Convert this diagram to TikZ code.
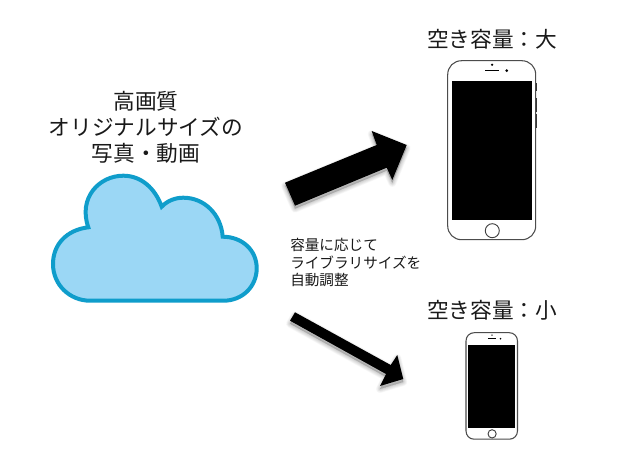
\documentclass[tikz,border=0pt]{standalone}
\usepackage{fontspec}
\setmainfont{Noto Sans CJK JP}
\definecolor{cloudfill}{HTML}{9BD7F5}
\definecolor{cloudline}{HTML}{0F9DCB}
\tikzset{
  x=0.75pt,y=-0.75pt,
  bigtext/.style={font=\fontsize{16.25}{19.5}\selectfont,align=center,inner sep=0pt,text=black!90},
  smalltext/.style={font=\fontsize{10.95}{13.1}\selectfont,align=left,inner sep=0pt,text=black!90},
  cloudshape/.style={fill=cloudfill,draw=cloudline,line width=3pt,line join=miter},
  arrowshape/.style={fill=black},
  glow/.style={draw=black,fill=black,draw opacity=0.025,fill opacity=0.025,line join=round},
  phonebody/.style={draw=black!70,line width=0.8pt,fill=white}
}
\newcommand{\drawphone}{%
    \fill[black!80] (88,22) rectangle (89.4,30);
    \fill[black!80] (88,37) rectangle (89.4,51);
    \fill[black!80] (88,53) rectangle (89.4,67);
    \draw[phonebody] (0,14) .. controls (0,6) and (6,0) .. (14,0) -- (74,0)
       .. controls (82,0) and (88,6) .. (88,14) -- (88,165)
       .. controls (88,173) and (82,179) .. (74,179) -- (14,179)
       .. controls (6,179) and (0,173) .. (0,165) -- cycle;
    \fill[black] (4,20) rectangle (84.5,159.5);
    \draw[black!75,line width=0.7pt] (44.6,170) circle[radius=7];
    \draw[black,line width=0.8pt] (37.5,10) -- (51.5,10);
    \fill[black] (44.4,4) circle[radius=1.2];
    \fill[black] (59,10) circle[radius=1.5];
}
\begin{document}
\begin{tikzpicture}
\useasboundingbox (0,0) rectangle (627,461);
\fill[white] (0,0) rectangle (627,461);

\node[bigtext] (title) at (146,127) {高画質\\オリジナルサイズの\\写真・動画};
\node[bigtext] (big) at (492,39) {空き容量：大};
\node[bigtext] (small) at (492,310) {空き容量：小};
\node[smalltext,anchor=west] (note) at (290,262.5) {容量に応じて\\ライブラリサイズを\\自動調整};

% cloud
\path[cloudshape] (88.3,227.3)
  .. controls (66,230) and (53,245) .. (53,264)
  .. controls (53,285) and (70,300.7) .. (90,300.7)
  -- (223.3,300.7)
  .. controls (243,300.7) and (256.7,286) .. (256.7,268.3)
  .. controls (256.7,250) and (242,236.7) .. (222.7,236.7)
  .. controls (221,214) and (204,197.7) .. (183.3,197.7)
  .. controls (175,197.7) and (167,201) .. (161.7,206.7)
  .. controls (155,188) and (141,175.7) .. (123.3,175.7)
  .. controls (99,175.7) and (78,198) .. (88.3,227.3)
  -- cycle;

% arrow shadows
\foreach \w in {1,2,3,4,5,6,7,8}{
  \begin{scope}[shift={(0,3)}]
  \path[glow,line width=\w*0.75pt] (285,182.7) -- (376.7,145) -- (371.7,131) -- (406.7,145) -- (392.3,180) -- (386.7,167.7) -- (295,205.7) -- cycle;
  \path[glow,line width=\w*0.75pt] (295,312.3) -- (390.7,365) -- (397.3,355) -- (403.3,379) -- (380,386) -- (386,374) -- (290,320.7) -- cycle;
  \end{scope}
}
% arrows
\fill[arrowshape] (285,182.7) -- (376.7,145) -- (371.7,131) -- (406.7,145) -- (392.3,180) -- (386.7,167.7) -- (295,205.7) -- cycle;
\fill[arrowshape] (295,312.3) -- (390.7,365) -- (397.3,355) -- (403.3,379) -- (380,386) -- (386,374) -- (290,320.7) -- cycle;

% phones
\begin{scope}[shift={(447.7,60.7)}]
\drawphone
\end{scope}
\begin{scope}[shift={(466,332.7)},xscale=0.585,yscale=0.595]
\drawphone
\end{scope}
\end{tikzpicture}
\end{document}
